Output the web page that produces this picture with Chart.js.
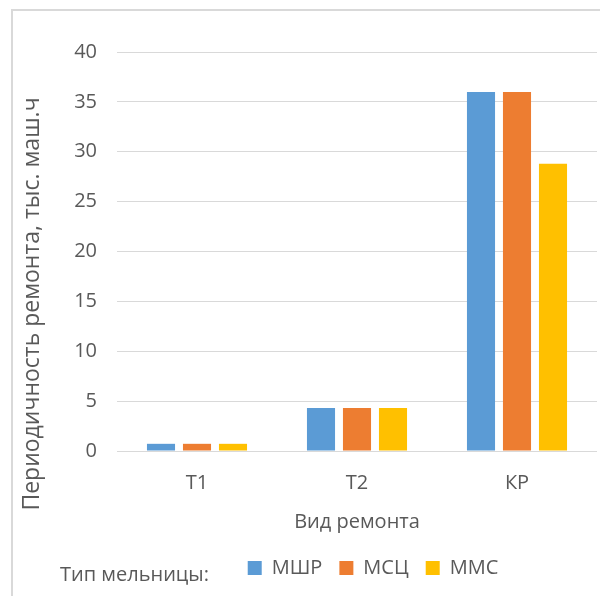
<!DOCTYPE html>
<html lang="ru">
<head>
<meta charset="utf-8">
<title>Периодичность ремонта мельниц</title>
<script src="https://cdn.jsdelivr.net/npm/chart.js@4.4.1/dist/chart.umd.min.js"></script>
<style>
  html, body { margin: 0; padding: 0; background: #fff; overflow: hidden; }
  #frame { position: absolute; left: 11px; top: 9px; width: 640px; height: 640px; border: 2px solid #d9d9d9; box-sizing: border-box; }
  #wrap  { position: absolute; left: 13px; top: 11px; width: 587px; height: 585px; }
</style>
</head>
<body>
<div id="frame"></div>
<div id="wrap"><canvas id="chart"></canvas></div>
<script>
// виды ремонта и периодичность, тыс. маш.ч
const categories  = ['Т1', 'Т2', 'КР'];
const seriesNames = ['МШР', 'МСЦ', 'ММС'];
const mshr = [0.72, 4.32, 36];
const msc  = [0.72, 4.32, 36];
const mms  = [0.72, 4.32, 28.8];
const yMin = 0, yMax = 40, yStep = 5;

const colors    = ['#5B9BD5', '#ED7D31', '#FFC000'];
const textColor = '#595959';
const family    = "'Open Sans', sans-serif";
const f20       = { size: 20, family };

// подпись оси Y и заголовок легенды рисуем сами
const extraText = {
  id: 'extraText',
  afterLayout(chart) {
    const lg = chart.legend;
    lg.left += 16; lg.right += 16;
  },
  afterDraw(chart) {
    const ctx = chart.ctx;
    ctx.save();
    ctx.fillStyle = textColor;
    ctx.font = `20px ${family}`;
    ctx.textBaseline = 'alphabetic';
    ctx.fillText('Тип мельницы:', 47, 570);
    ctx.font = `23px ${family}`;
    ctx.translate(19, 293);
    ctx.rotate(-Math.PI / 2);
    ctx.textAlign = 'center';
    ctx.textBaseline = 'middle';
    ctx.fillText('Периодичность ремонта, тыс. маш.ч', 0, 0);
    ctx.restore();
  }
};

const datasets = [mshr, msc, mms].map((data, i) => ({
  label: seriesNames[i],
  data,
  backgroundColor: colors[i],
  categoryPercentage: 0.675,
  barPercentage: 0.78
}));

new Chart(document.getElementById('chart'), {
  type: 'bar',
  data: { labels: categories, datasets },
  plugins: [extraText],
  options: {
    responsive: true, maintainAspectRatio: false, animation: false,
    layout: { padding: { top: 41, right: 3, left: 0, bottom: 8 } },
    plugins: {
      legend: {
        position: 'bottom', fullSize: false,
        labels: { font: f20, color: textColor, boxWidth: 14, boxHeight: 14, padding: 17 }
      },
      tooltip: { enabled: false }
    },
    scales: {
      x: {
        grid: { display: false, drawTicks: false },
        border: { display: false },
        ticks: { font: f20, color: textColor, padding: 20 },
        title: { display: true, text: 'Вид ремонта', font: f20, color: textColor, padding: { top: -5, bottom: 7 } }
      },
      y: {
        min: yMin, max: yMax,
        grid: { color: '#d9d9d9', drawTicks: false },
        border: { display: false },
        ticks: { stepSize: yStep, font: f20, color: textColor, padding: 20 },
        afterFit(s) { s.width = 104; }
      }
    }
  }
});
</script>
</body>
</html>
